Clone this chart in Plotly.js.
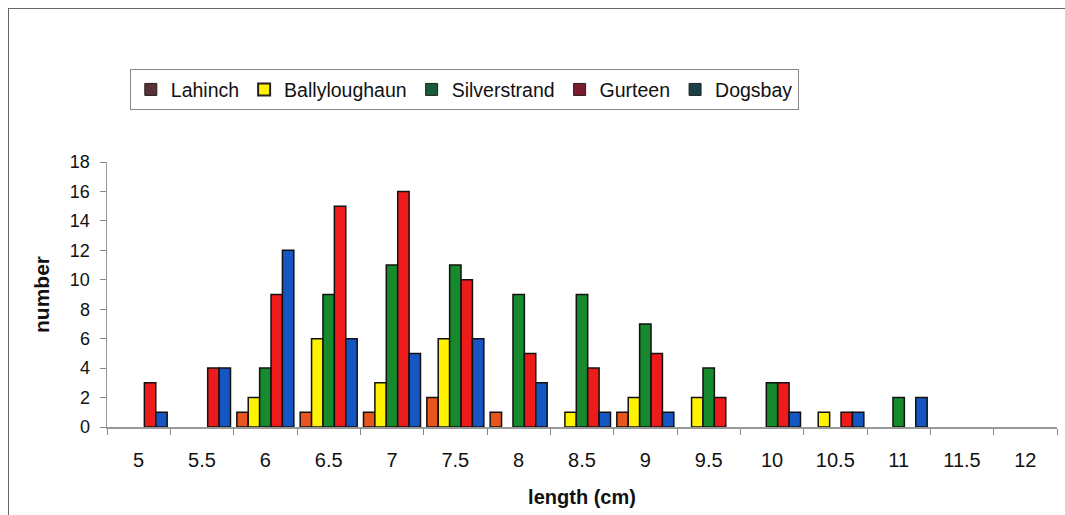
<!DOCTYPE html>
<html>
<head>
<meta charset="utf-8">
<script src="https://cdn.plot.ly/plotly-3.0.1.min.js"></script>
<style>
  html, body { margin: 0; padding: 0; background: #ffffff; overflow: hidden; }
  #wrap { position: relative; width: 1065px; height: 515px; }
  #chart { width: 1065px; height: 515px; }
  #frame { position: absolute; left: 8px; top: 8px; width: 1070px; height: 520px;
           border-left: 1.5px solid #666; border-top: 1.5px solid #666; pointer-events: none; }
</style>
</head>
<body>
<div id="wrap">
  <div id="chart"></div>
  <div id="frame"></div>
</div>
<script>
// Category labels (length in cm)
const lengths = ["5","5.5","6","6.5","7","7.5","8","8.5","9","9.5","10","10.5","11","11.5","12"];

// Counts per site
const lahinch       = [0,0,1,1,1,2,1,0,1,0,0,0,0,0,0];
const ballyloughaun = [0,0,2,6,3,6,0,1,2,2,0,1,0,0,0];
const silverstrand  = [0,0,4,9,11,11,9,9,7,4,3,0,2,0,0];
const gurteen       = [3,4,9,15,16,10,5,4,5,2,3,1,0,0,0];
const dogsbay       = [1,4,12,6,5,6,3,1,1,0,1,1,2,0,0];

const siteNames = ["Lahinch","Ballyloughaun","Silverstrand","Gurteen","Dogsbay"];
const siteData  = [lahinch, ballyloughaun, silverstrand, gurteen, dogsbay];
const barColors = ["#E8561E","#FFF200","#168A2C","#EE1B1B","#1656C2"];
const legendColors = ["#5C3036","#FFF200","#1B5A38","#7A1B2E","#1B4048"];

const traces = [];
// legend-only entries (swatches as they appear in the legend)
siteNames.forEach((name, i) => {
  traces.push({
    type: "scatter", mode: "markers", name: name,
    x: [null], y: [null],
    marker: { symbol: "square", size: 12, color: legendColors[i],
              line: { color: "#222", width: i === 1 ? 2 : 1 } },
    hoverinfo: "skip", showlegend: true
  });
});
// bars (zero counts drawn as no bar, as in the original)
siteNames.forEach((name, i) => {
  traces.push({
    type: "bar", name: name, x: lengths,
    y: siteData[i].map(v => (v === 0 ? null : v)),
    marker: { color: barColors[i], line: { color: "#111", width: 1.5 } },
    showlegend: false
  });
});

const layout = {
  width: 1065, height: 515,
  margin: { l: 107, r: 8, t: 162, b: 88 },
  paper_bgcolor: "#ffffff", plot_bgcolor: "#ffffff",
  font: { family: "Liberation Sans, Arial, sans-serif", color: "#111" },
  barmode: "group", bargap: 0.1, bargroupgap: 0,
  showlegend: true,
  legend: {
    orientation: "h", x: 0.024, xanchor: "left", y: 1.35, yanchor: "top",
    bordercolor: "#888", borderwidth: 1, bgcolor: "#ffffff",
    font: { size: 19.5, family: "Liberation Sans, Arial, sans-serif", color: "#111" },
    itemwidth: 30, tracegroupgap: 0
  },
  xaxis: {
    type: "category", categoryorder: "array", categoryarray: lengths,
    tickson: "boundaries", ticks: "outside", ticklen: 6, tickcolor: "#888",
    ticklabelstandoff: 14,
    showline: true, linecolor: "#999", linewidth: 1.5,
    showgrid: false, zeroline: false,
    tickfont: { size: 20, color: "#111" },
    title: { text: "<b>length (cm)</b>", font: { size: 20, color: "#111" }, standoff: 20 }
  },
  yaxis: {
    range: [0, 18], tickvals: [0,2,4,6,8,10,12,14,16,18],
    ticks: "outside", ticklen: 6, tickcolor: "#888",
    ticklabelstandoff: 6,
    showline: true, linecolor: "#999", linewidth: 1.5,
    showgrid: false, zeroline: false,
    tickfont: { size: 18, color: "#111" },
    title: { text: "<b>number</b>", font: { size: 21, color: "#111" }, standoff: 14 }
  }
};

Plotly.newPlot("chart", traces, layout, { displayModeBar: false, staticPlot: true });
</script>
</body>
</html>
